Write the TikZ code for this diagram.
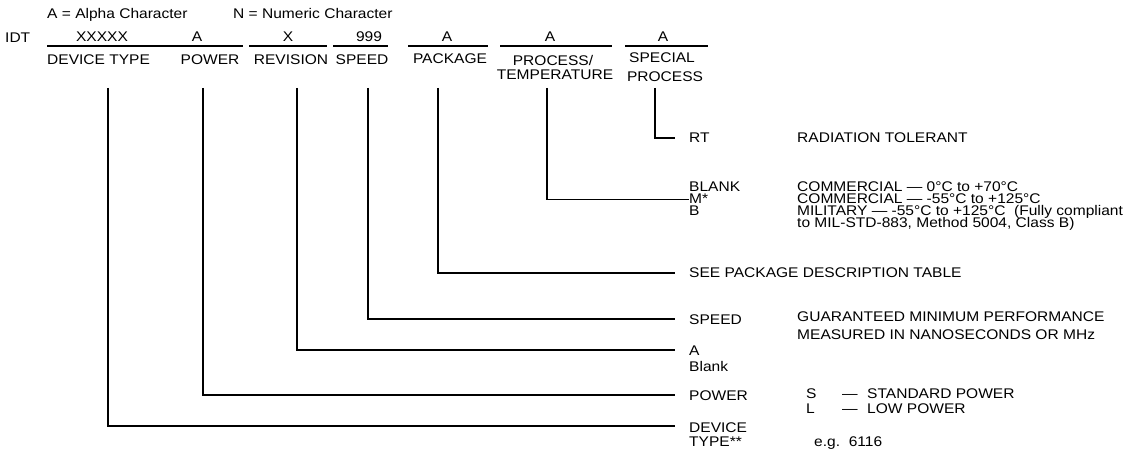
\documentclass[tikz,border=0pt]{standalone}
\usepackage{fontspec}
\setmainfont[FakeStretch=1.11]{Liberation Sans}
\begin{document}
\begin{tikzpicture}[x=1pt,y=-1pt,
  txt/.style={inner sep=0pt, anchor=base west, font=\fontsize{14}{11}\selectfont},
  ctr/.style={inner sep=0pt, anchor=base, font=\fontsize{14}{11}\selectfont},
  conn/.style={line width=1.3pt},
  uline/.style={line width=1.4pt}]
\useasboundingbox (0,0) rectangle (1141,449);
% header
\node[txt] (alpha) at (47,18.5) {A = Alpha Character};
\node[txt] (numeric) at (233,18.5) {N = Numeric Character};
\node[txt] (idt) at (5,43) {IDT};
\node[ctr] (fx1) at (102,42) {XXXXX};
\node[ctr] (fa1) at (197,42) {A};
\node[ctr] (fx2) at (288,42) {X};
\node[ctr] (f999) at (369,42) {999};
\node[ctr] (fa2) at (447,42) {A};
\node[ctr] (fa3) at (550,42) {A};
\node[ctr] (fa4) at (663,42) {A};
\draw[uline] (47,46) -- (243,46);
\draw[uline] (249,46) -- (327,46);
\draw[uline] (333,46) -- (388,46);
\draw[uline] (408,46) -- (488,46);
\draw[uline] (500,46) -- (612,46);
\draw[uline] (625,46) -- (708,46);
\node[txt] (ldev) at (47,64.5) {DEVICE TYPE};
\node[ctr] (lpow) at (210,64.5) {POWER};
\node[ctr] (lrev) at (291,64.5) {REVISION};
\node[ctr] (lspd) at (362,64.5) {SPEED};
\node[ctr] (lpkg) at (450,63.5) {PACKAGE};
\node[ctr] (lproc) at (553,66) {PROCESS/};
\node[ctr] (ltemp) at (555,80) {TEMPERATURE};
\node[ctr] (lspec) at (662,63) {SPECIAL};
\node[ctr] (lsproc) at (665,81.5) {PROCESS};
% right side
\node[txt] (rt) at (689,142.5) {RT};
\node[txt] (rtd) at (797,142.5) {RADIATION TOLERANT};
\node[txt] (blank) at (689,192) {BLANK};
\node[txt] (mstar) at (689,204) {M*};
\node[txt] (bmil) at (689,216) {B};
\node[txt] (com1) at (797,192) {COMMERCIAL — 0°C to +70°C};
\node[txt] (com2) at (797,204) {COMMERCIAL — -55°C to +125°C};
\node[txt] (mil) at (797,216) {MILITARY — -55°C to +125°C\ \ (Fully compliant};
\node[txt] (mil2) at (797,228) {to MIL-STD-883, Method 5004, Class B)};
\node[txt] (seepkg) at (689,278) {SEE PACKAGE DESCRIPTION TABLE};
\node[txt] (spd) at (689,324) {SPEED};
\node[txt] (guar) at (797,321) {GUARANTEED MINIMUM PERFORMANCE};
\node[txt] (meas) at (797,339) {MEASURED IN NANOSECONDS OR MHz};
\node[txt] (reva) at (689,355) {A};
\node[txt] (revb) at (689,371) {Blank};
\node[txt] (pow) at (689,400) {POWER};
\node[txt] (ps) at (806,398.5) {S};
\node[txt] (psd) at (842,398.5) {—};
\node[txt] (pst) at (867,398.5) {STANDARD POWER};
\node[txt] (pl) at (806,413) {L};
\node[txt] (pld) at (842,413) {—};
\node[txt] (plt) at (867,413) {LOW POWER};
\node[txt] (dev) at (689,432) {DEVICE};
\node[txt] (devt) at (689,446) {TYPE**};
\node[txt] (eg) at (814,446) {e.g.\ \ 6116};
% connectors
\foreach \n/\x in {1/108,2/203,3/297,4/368,5/438,6/547,7/655}
  \coordinate (t\n) at (\x,88);
\coordinate (e1) at (675,426);
\coordinate (e2) at (675,395);
\coordinate (e3) at (675,350);
\coordinate (e4) at (675,319);
\coordinate (e5) at (675,273);
\coordinate (e7) at (675,138);
\draw[conn] (t1) |- (e1);
\draw[conn] (t2) |- (e2);
\draw[conn] (t3) |- (e3);
\draw[conn] (t4) |- (e4);
\draw[conn] (t5) |- (e5);
\draw[conn] (t6) |- (mstar.west);
\draw[conn] (t7) |- (e7);
\end{tikzpicture}
\end{document}
